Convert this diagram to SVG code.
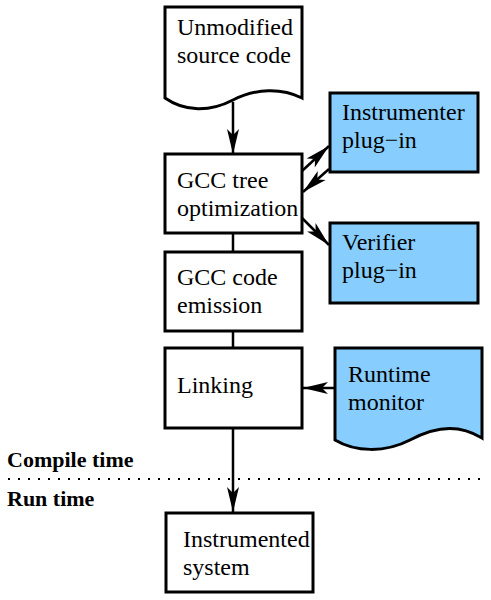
<svg xmlns="http://www.w3.org/2000/svg" width="491" height="600" viewBox="0 0 491 600">
<style>
.box{fill:#ffffff;stroke:#000;stroke-width:3}
.blue{fill:#87CEFF;stroke:#000;stroke-width:3}
.t{font-size:24px;fill:#000}
.b{font-size:22px;font-weight:bold;fill:#000}
.c{stroke:#000;stroke-width:2.5;fill:none}
</style>
<defs>
<marker id="ah" markerUnits="userSpaceOnUse" markerWidth="28" markerHeight="16" viewBox="-26 -8 28 16" refX="0" refY="0" orient="auto">
<path d="M0,0 L-25,-6 L-19,0 L-25,6 z" fill="#000"/>
</marker>
</defs>
<rect width="491" height="600" fill="#fff"/>
<g id="connectors">
<line class="c" x1="233" y1="102" x2="233" y2="154" marker-end="url(#ah)"/>
<line class="c" x1="302" y1="171" x2="329" y2="146" marker-end="url(#ah)"/>
<line class="c" x1="329" y1="169" x2="303" y2="192" marker-end="url(#ah)"/>
<line class="c" x1="302" y1="218" x2="329" y2="245" marker-end="url(#ah)"/>
<line class="c" x1="233" y1="233" x2="233" y2="252"/>
<line class="c" x1="233" y1="331" x2="233" y2="348"/>
<line class="c" x1="335" y1="388" x2="303" y2="388" marker-end="url(#ah)"/>
<line class="c" x1="233" y1="428" x2="233" y2="512" marker-end="url(#ah)"/>
</g>
<g id="labels-left" font-family="Liberation Serif, DejaVu Serif, serif">
<line x1="8" y1="479" x2="482" y2="479" stroke="#000" stroke-width="2" stroke-dasharray="2,8"/>
<text class="b" x="7" y="467">Compile time</text>
<text class="b" x="7" y="506">Run time</text>
</g>
<g font-family="Liberation Serif, DejaVu Serif, serif">
<g id="source">
<path class="box" d="M165,7 L302,7 L302,98 C282,88 256,88 233,100 C210,112 185,112 165,98 Z"/>
<text class="t" x="177" y="35">Unmodified</text>
<text class="t" x="177" y="63">source code</text>
</g>
<g id="gcc-tree">
<rect class="box" x="165" y="154" width="137" height="79"/>
<text class="t" x="177" y="188">GCC tree</text>
<text class="t" x="177" y="216">optimization</text>
</g>
<g id="instrumenter">
<rect class="blue" x="330" y="93" width="148" height="79"/>
<text class="t" x="342" y="120">Instrumenter</text>
<text class="t" x="342" y="148">plug−in</text>
</g>
<g id="verifier">
<rect class="blue" x="330" y="223" width="148" height="80"/>
<text class="t" x="342" y="250">Verifier</text>
<text class="t" x="342" y="278">plug−in</text>
</g>
<g id="gcc-code">
<rect class="box" x="165" y="252" width="137" height="79"/>
<text class="t" x="177" y="285">GCC code</text>
<text class="t" x="177" y="313">emission</text>
</g>
<g id="linking">
<rect class="box" x="165" y="348" width="137" height="80"/>
<text class="t" x="177" y="393">Linking</text>
</g>
<g id="runtime">
<path class="blue" d="M335,348 L482,348 L482,438 C462,426 440,424 410,440 C385,453 355,452 335,440 Z"/>
<text class="t" x="348" y="382">Runtime</text>
<text class="t" x="348" y="410">monitor</text>
</g>
<g id="instrumented">
<rect class="box" x="166" y="513" width="147" height="79"/>
<text class="t" x="183" y="547">Instrumented</text>
<text class="t" x="183" y="575">system</text>
</g>
</g>
</svg>
